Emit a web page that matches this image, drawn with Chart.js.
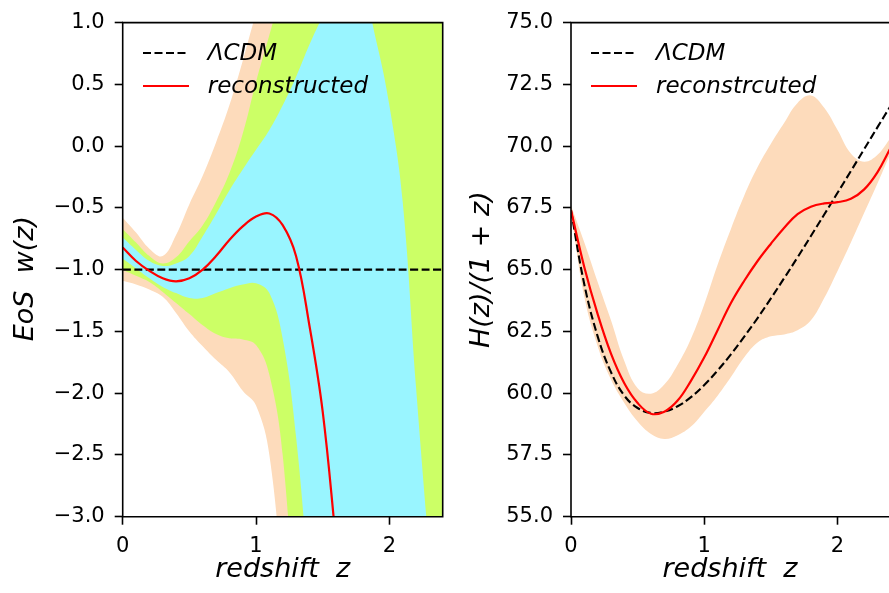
<!DOCTYPE html>
<html>
<head>
<meta charset="utf-8">
<title>EoS and H(z)/(1+z) reconstruction</title>
<script src="https://cdn.jsdelivr.net/npm/chart.js@4.4.1/dist/chart.umd.min.js"></script>
<style>
  html, body { margin: 0; padding: 0; background: #fff; }
  #wrap { position: relative; width: 889px; height: 593px; overflow: hidden; }
  .panel { position: absolute; top: 0; height: 593px; }
  .panel canvas { display: block; }
  .legend { position: absolute; font-family: 'DejaVu Sans', sans-serif; font-style: italic; font-size: 23px; color: #000; }
  .legend .row { display: flex; align-items: center; height: 33.4px; line-height: 33.4px; white-space: nowrap; }
  .legend svg { margin-right: 19px; }
</style>
</head>
<body>
<div id="wrap">
  <div class="panel" style="left:0;width:450px">
    <canvas id="eosChart" width="450" height="593"></canvas>
    <div class="legend" id="eosLegend"></div>
  </div>
  <div class="panel" style="left:450px;width:439px">
    <canvas id="hubbleChart" width="439" height="593"></canvas>
    <div class="legend" id="hubbleLegend"></div>
  </div>
</div>
<script>
// grille en redshift commune aux deux panneaux
const zGrid = [0, 0.1, 0.2, 0.3, 0.4, 0.5, 0.6, 0.7, 0.8, 0.9, 1.0, 1.1, 1.2,
               1.3, 1.4, 1.5, 1.6, 1.7, 1.8, 1.9, 2.0, 2.1, 2.2, 2.3, 2.4];
const xTicks = [0, 1, 2];
const wTicks = [-3, -2.5, -2, -1.5, -1, -0.5, 0, 0.5, 1];
const hTicks = [55, 57.5, 60, 62.5, 65, 67.5, 70, 72.5, 75];

// panneau gauche : w(z)
const lcdmWz = [0, 2.4];
const lcdmW = [-1, -1];
const recW = [-0.82, -0.93, -1.01, -1.07, -1.095, -1.07, -1.0, -0.89, -0.76, -0.65, -0.57, -0.545,
              -0.64, -0.89, -1.45, -2.15, -3.2];
const cyanLoW = [-0.91, -0.99, -1.07, -1.14, -1.19, -1.23, -1.23, -1.19, -1.15, -1.12, -1.11, -1.19,
                 -1.56, -2.35, -3.6, -5.0, -6.2, -6.5, -6.5, -6.5, -6.5, -6.5, -6.5, -6.5, -6.5];
const cyanHiW = [-0.74, -0.84, -0.93, -0.97, -0.95, -0.89, -0.73, -0.55, -0.36, -0.19, -0.03, 0.13,
                 0.33, 0.56, 0.82, 1.05, 1.25, 1.35, 1.25, 0.86, 0.33, -0.45, -1.95, -3.3, -4.6];
const greenLoW = [-1.0, -1.05, -1.10, -1.18, -1.27, -1.36, -1.45, -1.52, -1.555, -1.565, -1.61, -1.85,
                  -2.5, -4.0, -5.5, -7, -7, -7, -7, -7, -7, -7, -7, -7, -7];
const greenHiW = [-0.67, -0.78, -0.89, -0.95, -0.9, -0.77, -0.64, -0.45, -0.22, 0.1, 0.52, 0.9,
                  1.28, 1.6, 1.9, 2.2, 2.5, 2.8, 3.0, 3.2, 3.4, 3.5, 3.6, 3.7, 3.8];
const peachLoW = [-1.09, -1.12, -1.16, -1.22, -1.35, -1.50, -1.62, -1.73, -1.83, -1.98, -2.10, -2.5,
                  -3.6, -5.0, -7.5, -7.5, -7.5, -7.5, -7.5, -7.5, -7.5, -7.5, -7.5, -7.5, -7.5];
const peachHiW = [-0.58, -0.70, -0.83, -0.89, -0.72, -0.47, -0.24, 0.03, 0.33, 0.69, 1.08, 1.45,
                  1.8, 2.1, 2.4, 2.7, 3.0, 3.2, 3.4, 3.6, 3.8, 4.0, 4.1, 4.2, 4.3];

// panneau droit : H(z)/(1+z)
const lcdmH = [67.4, 64.4, 62.3, 60.85, 59.9, 59.4, 59.2, 59.25, 59.47, 59.84, 60.33, 60.92, 61.57,
               62.29, 63.04, 63.84, 64.66, 65.5, 66.36, 67.23, 68.11, 68.99, 69.88, 70.77, 71.65];
const recH = [67.4, 65.1, 63.2, 61.6, 60.4, 59.6, 59.17, 59.25, 59.7, 60.5, 61.45, 62.55, 63.65,
              64.55, 65.35, 66.05, 66.7, 67.25, 67.55, 67.68, 67.73, 67.87, 68.25, 68.95, 69.95];
const bandLoH = [67.3, 63.9, 61.9, 60.55, 59.6, 58.85, 58.35, 58.15, 58.3, 58.65, 59.25, 59.9, 60.65,
                 61.45, 62.05, 62.3, 62.38, 62.55, 62.95, 63.85, 64.95, 66.1, 67.3, 68.5, 69.75];
const bandHiH = [67.6, 66.1, 64.5, 62.95, 61.3, 60.2, 59.98, 60.35, 61.15, 62.2, 63.6, 65.2, 66.65,
                 68.0, 69.15, 70.1, 70.95, 71.75, 72.05, 71.55, 70.65, 69.7, 69.37, 69.65, 70.35];

const PEACH = '#fddbbb';
const GREEN = '#ccff66';
const CYAN = '#99f5ff';
const FONT = 'DejaVu Sans';
const TENSION = 0.4;

function pts(xs, ys) {
  return ys.map((y, i) => ({ x: xs[i], y }));
}

function lineSet(label, xs, ys, color, dash, order) {
  return {
    label, data: pts(xs, ys), borderColor: color, borderWidth: dash.length ? 2.1 : 2.2,
    borderDash: dash, pointRadius: 0, fill: false, tension: TENSION, capBezierPoints: false, order
  };
}

// deux datasets : bord bas (sans remplissage) puis bord haut rempli jusqu'au précédent
function bandSets(lo, hi, color, order) {
  const base = { borderWidth: 0, borderColor: 'transparent', pointRadius: 0, tension: TENSION, capBezierPoints: false, order };
  return [
    Object.assign({}, base, { data: pts(zGrid, lo), fill: false }),
    Object.assign({}, base, { data: pts(zGrid, hi), fill: '-1', backgroundColor: color })
  ];
}

// cadre noir (matplotlib spines)
const framePlugin = {
  id: 'frame',
  afterDatasetsDraw(chart, args, opts) {
    const a = chart.chartArea;
    const ctx = chart.ctx;
    const sides = opts.sides || [];
    ctx.save();
    ctx.strokeStyle = '#000';
    ctx.lineWidth = 1.6;
    ctx.lineCap = 'square';
    ctx.beginPath();
    if (sides.includes('left')) { ctx.moveTo(a.left, a.top); ctx.lineTo(a.left, a.bottom); }
    if (sides.includes('bottom')) { ctx.moveTo(a.left, a.bottom); ctx.lineTo(a.right, a.bottom); }
    if (sides.includes('top')) { ctx.moveTo(a.left, a.top); ctx.lineTo(a.right, a.top); }
    if (sides.includes('right')) { ctx.moveTo(a.right, a.top); ctx.lineTo(a.right, a.bottom); }
    ctx.stroke();
    ctx.restore();
  }
};

// titre vertical de l'axe y, centré sur (x, milieu de la zone + dy)
const yLabelPlugin = {
  id: 'yLabel',
  afterDraw(chart, args, opts) {
    if (!opts.text) return;
    const a = chart.chartArea;
    const ctx = chart.ctx;
    ctx.save();
    ctx.translate(opts.x, (a.top + a.bottom) / 2 + (opts.dy || 0));
    ctx.rotate(-Math.PI / 2);
    ctx.fillStyle = '#000';
    ctx.font = `italic 27px ${FONT}`;
    ctx.textAlign = 'center';
    ctx.textBaseline = 'middle';
    ctx.fillText(opts.text, 0, 0);
    ctx.restore();
  }
};

function fmt(v) {
  return v.toFixed(1).replace('-', '\u2212');
}

function makeOptions(cfg) {
  const tickGrid = { drawOnChartArea: false, tickLength: 8, tickWidth: 1.6, tickColor: '#000' };
  return {
    responsive: false,
    animation: false,
    events: [],
    layout: { padding: { left: 0, top: 18.3, right: cfg.padRight, bottom: 0 } },
    scales: {
      x: {
        type: 'linear', min: 0, max: cfg.xMax,
        afterBuildTicks: s => { s.ticks = xTicks.map(v => ({ value: v })); },
        afterFit: s => { s.height = 76.3; },
        ticks: { autoSkip: false, maxRotation: 0, color: '#000', padding: 9, font: { family: FONT, size: 21 }, callback: v => String(v) },
        grid: tickGrid,
        border: { display: false },
        title: { display: true, text: 'redshift  z', color: '#000', font: { family: FONT, size: 27, style: 'italic' }, padding: { top: 0, bottom: 7 } }
      },
      y: {
        type: 'linear', min: cfg.yMin, max: cfg.yMax,
        afterBuildTicks: s => { s.ticks = cfg.yTicks.map(v => ({ value: v })); },
        afterFit: s => { s.width = cfg.yWidth; },
        ticks: { autoSkip: false, color: '#000', padding: 10, font: { family: FONT, size: 21 }, callback: v => fmt(v) },
        grid: tickGrid,
        border: { display: false }
      }
    },
    plugins: {
      legend: { display: false },
      tooltip: { enabled: false },
      frame: { sides: cfg.sides },
      yLabel: { text: cfg.yTitle, x: cfg.yTitleX, dy: cfg.yTitleDy }
    }
  };
}

// légende HTML placée dans la zone du graphique
function buildLegend(chart, id) {
  const box = document.getElementById(id);
  const a = chart.chartArea;
  box.style.left = (a.left + 20) + 'px';
  box.style.top = (a.top + 13.3) + 'px';
  chart.data.datasets.filter(d => d.label).forEach(d => {
    const row = document.createElement('div');
    row.className = 'row';
    const dash = (d.borderDash || []).join(' ');
    row.innerHTML = `<svg width="46" height="6"><line x1="0" y1="3" x2="46" y2="3" stroke="${d.borderColor}" stroke-width="${d.borderWidth}" stroke-dasharray="${dash}"/></svg>`;
    const span = document.createElement('span');
    span.textContent = d.label;
    row.appendChild(span);
    box.appendChild(row);
  });
}

Chart.defaults.font.family = FONT;

const eosChart = new Chart(document.getElementById('eosChart').getContext('2d'), {
  type: 'line',
  data: {
    datasets: [
      lineSet('\u039BCDM', lcdmWz, lcdmW, '#000', [8, 3.5], 1),
      lineSet('reconstructed', zGrid, recW, '#ff0000', [], 0),
      ...bandSets(cyanLoW, cyanHiW, CYAN, 2),
      ...bandSets(greenLoW, greenHiW, GREEN, 3),
      ...bandSets(peachLoW, peachHiW, PEACH, 4)
    ]
  },
  options: makeOptions({ xMax: 2.4, padRight: 7.3, yMin: -3, yMax: 1, yTicks: wTicks, yWidth: 122.7,
                         yTitle: 'EoS  w(z)', yTitleX: 26, yTitleDy: 9, sides: ['left', 'bottom', 'top', 'right'] }),
  plugins: [framePlugin, yLabelPlugin]
});
buildLegend(eosChart, 'eosLegend');

const hubbleChart = new Chart(document.getElementById('hubbleChart').getContext('2d'), {
  type: 'line',
  data: {
    datasets: [
      lineSet('\u039BCDM', zGrid, lcdmH, '#000', [8, 3.5], 1),
      lineSet('reconstrcuted', zGrid, recH, '#ff0000', [], 0),
      ...bandSets(bandLoH, bandHiH, PEACH, 2)
    ]
  },
  options: makeOptions({ xMax: 2.386, padRight: 0, yMin: 55, yMax: 75, yTicks: hTicks, yWidth: 121,
                         yTitle: 'H(z)/(1 + z)', yTitleX: 32, yTitleDy: 0, sides: ['left', 'bottom', 'top'] }),
  plugins: [framePlugin, yLabelPlugin]
});
buildLegend(hubbleChart, 'hubbleLegend');
</script>
</body>
</html>
